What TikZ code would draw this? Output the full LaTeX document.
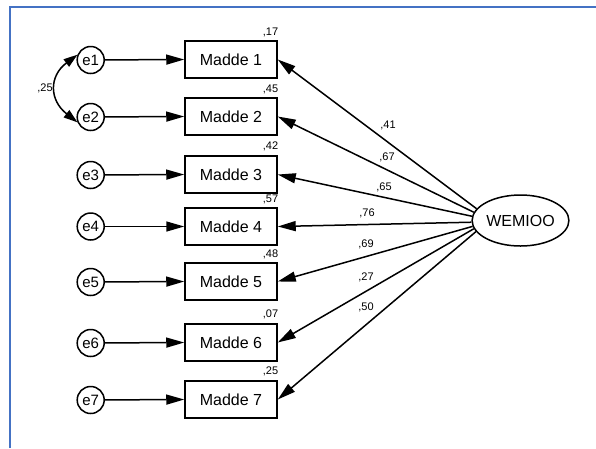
\documentclass[tikz,border=0pt]{standalone}
\usepackage{fontspec}
\setmainfont{Liberation Sans}
\usetikzlibrary{arrows.meta,shapes.geometric}
\definecolor{frameblue}{RGB}{68,114,196}
\begin{document}
\begin{tikzpicture}[x=1pt,y=-1pt,
  box/.style={draw,line width=1.5pt,minimum width=92pt,minimum height=37pt,inner sep=0pt,font=\fontsize{16}{19}\selectfont},
  err/.style={draw,circle,line width=1.5pt,minimum size=27pt,inner sep=0pt,font=\fontsize{15}{18}\selectfont},
  lat/.style={draw,ellipse,line width=1.5pt,minimum width=93pt,minimum height=51pt,inner sep=0pt,font=\fontsize{16}{19}\selectfont},
  arr/.style={line width=1.5pt,-{Triangle[length=18pt,width=10pt]}},
  cov/.style={line width=1.5pt,{Triangle[length=14pt,width=9pt]}-{Triangle[length=14pt,width=9pt]}},
  lbl/.style={inner sep=0pt,font=\fontsize{11}{13}\selectfont}]
\useasboundingbox (0,0) rectangle (596,448);
\fill[white] (0,0) rectangle (596,448);
\draw[frameblue,line width=2.6pt] (10,448) -- (10,7) -- (596,7);

\node[box] (m1) at (231,59.5) {Madde 1};
\node[box] (m2) at (231,116.5) {Madde 2};
\node[box] (m3) at (231,174.5) {Madde 3};
\node[box] (m4) at (231,226.5) {Madde 4};
\node[box] (m5) at (231,281.5) {Madde 5};
\node[box] (m6) at (231,342.5) {Madde 6};
\node[box] (m7) at (231,399.5) {Madde 7};

\node[err] (e1) at (90.7,60) {e1};
\node[err] (e2) at (90.7,117) {e2};
\node[err] (e3) at (90.7,175) {e3};
\node[err] (e4) at (90.7,226.5) {e4};
\node[err] (e5) at (90.7,282) {e5};
\node[err] (e6) at (90.7,343) {e6};
\node[err] (e7) at (90.7,400) {e7};

\node[lat] (W) at (520.5,220.5) {WEMIOO};

\foreach \i in {1,...,7} {\draw[arr] (e\i) -- (m\i.west);}

\draw[cov] (e1.158) .. controls (49,76) and (49,100) .. (e2.202);
\node[lbl] (c12) at (45,88) {,25};

\draw[arr] (W.165) -- (m1.east);
\draw[arr] (W.170) -- (m2.east);
\draw[arr] (W.175) -- (m3.east);
\draw[arr] (W.182) -- (m4.east);
\draw[arr] (W.187) -- (m5.east);
\draw[arr] (W.190) -- (m6.east);
\draw[arr] (W.194) -- (m7.east);

\node[lbl] (l1) at (388,125) {,41};
\node[lbl] (l2) at (387,157) {,67};
\node[lbl] (l3) at (384,187) {,65};
\node[lbl] (l4) at (367,213) {,76};
\node[lbl] (l5) at (366,244) {,69};
\node[lbl] (l6) at (366,277) {,27};
\node[lbl] (l7) at (366,307) {,50};

\node[lbl] (r1) at (270.5,32) {,17};
\node[lbl] (r2) at (270.5,89) {,45};
\node[lbl] (r3) at (270.5,146) {,42};
\node[lbl] (r4) at (270.5,199) {,57};
\node[lbl] (r5) at (270.5,254) {,48};
\node[lbl] (r6) at (270.5,314) {,07};
\node[lbl] (r7) at (270.5,371) {,25};
\end{tikzpicture}
\end{document}
